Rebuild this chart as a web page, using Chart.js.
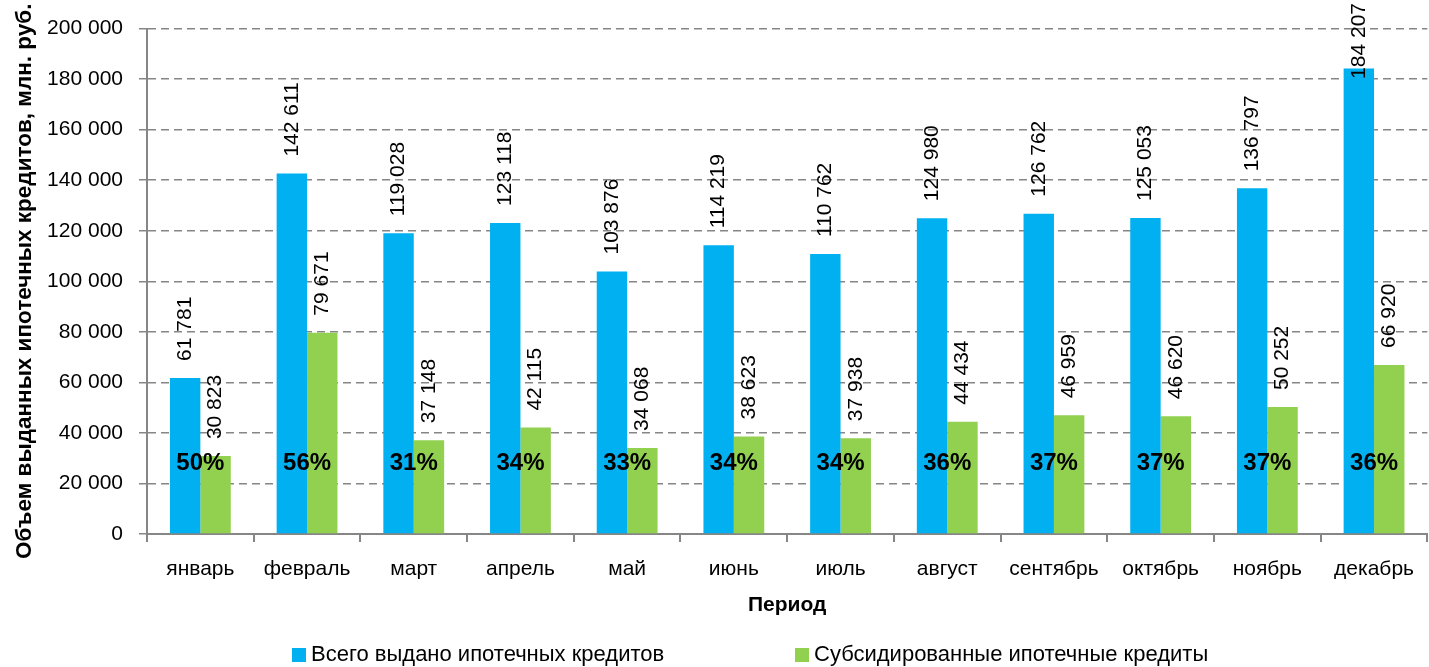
<!DOCTYPE html>
<html lang="ru">
<head>
<meta charset="utf-8">
<title>Ипотечные кредиты по месяцам</title>
<script src="https://cdn.jsdelivr.net/npm/chart.js@4.4.1/dist/chart.umd.min.js"></script>
<style>
  html, body { margin: 0; padding: 0; background: #fff; }
  #wrap { position: relative; width: 1429px; height: 667px; }
</style>
</head>
<body>
<div id="wrap"><canvas id="mortgageChart" width="1429" height="667"></canvas></div>
<script>
const months = ["январь", "февраль", "март", "апрель", "май", "июнь",
                "июль", "август", "сентябрь", "октябрь", "ноябрь", "декабрь"];
const totalLoans = [61781, 142611, 119028, 123118, 103876, 114219,
                    110762, 124980, 126762, 125053, 136797, 184207];
const subsidizedLoans = [30823, 79671, 37148, 42115, 34068, 38623,
                         37938, 44434, 46959, 46620, 50252, 66920];
const subsidizedShare = [50, 56, 31, 34, 33, 34, 34, 36, 37, 37, 37, 36];
const seriesNames = ["Всего выдано ипотечных кредитов", "Субсидированные ипотечные кредиты"];
const seriesColors = ["#00B0F0", "#92D050"];

const FONT = "'Liberation Sans', Arial, sans-serif";
const GRID = "#868686";

// число с пробелом между разрядами: 142 611
function fmt(v) {
  return String(v).replace(/\B(?=(\d{3})+(?!\d))/g, " ");
}

// подписи значений над столбцами (повернуты) и доли в процентах
const labelsPlugin = {
  id: "barLabels",
  afterDatasetsDraw(chart) {
    const ctx = chart.ctx;
    ctx.save();
    ctx.fillStyle = "#000";
    ctx.font = "21px " + FONT;
    chart.data.datasets.forEach((ds, di) => {
      const meta = chart.getDatasetMeta(di);
      meta.data.forEach((bar, i) => {
        const text = fmt(ds.data[i]);
        const w = ctx.measureText(text).width;
        const start = Math.max(bar.y - 17, w + 3);
        ctx.save();
        ctx.translate(bar.x, start);
        ctx.rotate(-Math.PI / 2);
        ctx.textAlign = "left";
        ctx.textBaseline = "middle";
        ctx.fillText(text, 0, 0);
        ctx.restore();
      });
    });

    const xs = chart.scales.x, ys = chart.scales.y;
    ctx.font = "bold 24px " + FONT;
    ctx.textAlign = "center";
    ctx.textBaseline = "middle";
    subsidizedShare.forEach((p, i) => {
      ctx.fillText(p + "%", xs.getPixelForValue(i), ys.getPixelForValue(28000));
    });
    ctx.restore();
  },
  afterDraw(chart) {
    // легенда внизу
    const ctx = chart.ctx;
    const items = [{ x: 292 }, { x: 795 }];
    const y = 655;
    ctx.save();
    ctx.font = "22px " + FONT;
    ctx.textBaseline = "middle";
    ctx.textAlign = "left";
    items.forEach((it, i) => {
      ctx.fillStyle = seriesColors[i];
      ctx.fillRect(it.x, y - 7, 14, 14);
      ctx.fillStyle = "#000";
      ctx.fillText(seriesNames[i], it.x + 19, y);
    });
    ctx.restore();
  }
};

const chart = new Chart(document.getElementById("mortgageChart"), {
  type: "bar",
  data: {
    labels: months,
    datasets: [
      { label: seriesNames[0], data: totalLoans, backgroundColor: seriesColors[0] },
      { label: seriesNames[1], data: subsidizedLoans, backgroundColor: seriesColors[1] }
    ]
  },
  options: {
    responsive: false,
    animation: false,
    categoryPercentage: 0.57,
    barPercentage: 1.0,
    layout: { padding: { top: 24, left: 0, right: 0, bottom: 45 } },
    plugins: {
      legend: { display: false },
      tooltip: { enabled: false }
    },
    scales: {
      x: {
        grid: {
          display: true,
          drawOnChartArea: false,
          drawTicks: true,
          offset: true,
          tickLength: 8,
          color: GRID,
          lineWidth: 2
        },
        border: { display: true, color: GRID, width: 2 },
        ticks: { color: "#000", padding: 15, font: { family: FONT, size: 21 }, maxRotation: 0, autoSkip: false },
        title: {
          display: true,
          text: "Период",
          color: "#000",
          font: { family: FONT, size: 21, weight: "bold" },
          padding: { top: 4, bottom: 4 }
        },
        afterFit(scale) { scale.height = 88; }
      },
      y: {
        min: 0,
        max: 200000,
        grid: {
          color: GRID,
          lineWidth: 1.5,
          tickLength: 8,
          tickBorderDash: []
        },
        border: { display: true, color: GRID, width: 2, dash: [8, 5] },
        ticks: {
          stepSize: 20000,
          color: "#000",
          padding: 16,
          font: { family: FONT, size: 21 },
          callback: v => fmt(v)
        },
        title: {
          display: true,
          text: "Объем выданных ипотечных кредитов, млн. руб.",
          color: "#000",
          font: { family: FONT, size: 22.5, weight: "bold" },
          padding: { top: 11, bottom: 0 }
        },
        afterFit(scale) { scale.width = 147; }
      }
    }
  },
  plugins: [labelsPlugin]
});
</script>
</body>
</html>
